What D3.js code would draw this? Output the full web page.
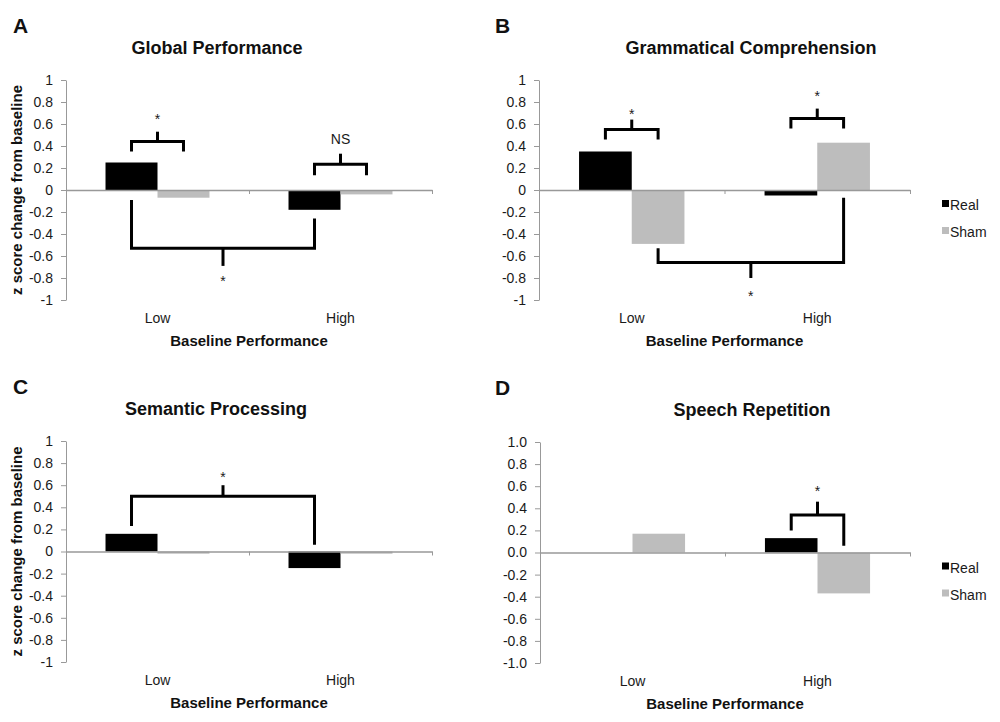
<!DOCTYPE html>
<html>
<head>
<meta charset="utf-8">
<script src="https://cdn.jsdelivr.net/npm/d3@7"></script>
<style>
  body { margin: 0; background: #fff; }
  text { font-family: "Liberation Sans", Arial, Helvetica, sans-serif; }
</style>
</head>
<body>
<div id="chart"></div>
<script>
const width = 1000;
const height = 722;

// Data
const categories = ["Low", "High"];
const series = ["Real", "Sham"];

const globalReal = [0.25, -0.18];
const globalSham = [-0.07, -0.04];
const grammarReal = [0.35, -0.05];
const grammarSham = [-0.49, 0.43];
const semanticReal = [0.16, -0.15];
const semanticSham = [-0.02, -0.02];
const speechReal = [0, 0.13];
const speechSham = [0.17, -0.37];

const yTicks = [1, 0.8, 0.6, 0.4, 0.2, 0, -0.2, -0.4, -0.6, -0.8, -1];

// significance brackets (values in z units)
const globalBrackets = [
    { from: ["Low", "Real"], to: ["Low", "Sham"], level: 0.44, left: 0.35, right: 0.35, tick: 0.53, label: "*", labelAt: 0.67 },
    { from: ["High", "Real"], to: ["High", "Sham"], level: 0.235, left: 0.135, right: 0.135, tick: 0.33, label: "NS", labelAt: 0.46 },
    { from: ["Low", "Real"], to: ["High", "Real"], level: -0.53, left: -0.09, right: -0.26, tick: -0.69, label: "*", labelAt: -0.80 }
];
const grammarBrackets = [
    { from: ["Low", "Real"], to: ["Low", "Sham"], level: 0.55, left: 0.46, right: 0.46, tick: 0.64, label: "*", labelAt: 0.72 },
    { from: ["High", "Real"], to: ["High", "Sham"], level: 0.65, left: 0.56, right: 0.56, tick: 0.74, label: "*", labelAt: 0.88 },
    { from: ["Low", "Sham"], to: ["High", "Sham"], level: -0.66, left: -0.53, right: -0.07, tick: -0.80, label: "*", labelAt: -0.94 }
];
const semanticBrackets = [
    { from: ["Low", "Real"], to: ["High", "Real"], level: 0.50, left: 0.23, right: 0.06, tick: 0.60, label: "*", labelAt: 0.70 }
];
const speechBrackets = [
    { from: ["High", "Real"], to: ["High", "Sham"], level: 0.34, left: 0.20, right: 0.06, tick: 0.46, label: "*", labelAt: 0.58 }
];

const colors = { Real: "#000000", Sham: "#bdbdbd" };

const panels = [
    { letter: "A", title: "Global Performance", real: globalReal, sham: globalSham, brackets: globalBrackets,
      x0: 66, x1: 432, yTop: 80, yBot: 300, titleX: 217, letterX: 13, yTitle: true, legend: false, fmt: d => String(+d.toFixed(1)) },
    { letter: "B", title: "Grammatical Comprehension", real: grammarReal, sham: grammarSham, brackets: grammarBrackets,
      x0: 539, x1: 910, yTop: 80, yBot: 300, titleX: 751, letterX: 495, yTitle: false, legend: true, fmt: d => String(+d.toFixed(1)) },
    { letter: "C", title: "Semantic Processing", real: semanticReal, sham: semanticSham, brackets: semanticBrackets,
      x0: 66, x1: 432, yTop: 441, yBot: 662, titleX: 216, letterX: 13, yTitle: true, legend: false, fmt: d => String(+d.toFixed(1)) },
    { letter: "D", title: "Speech Repetition", real: speechReal, sham: speechSham, brackets: speechBrackets,
      x0: 540, x1: 910, yTop: 442, yBot: 663, titleX: 752, letterX: 495, yTitle: false, legend: true, fmt: d => d.toFixed(1) }
];

const svg = d3.select("#chart")
    .append("svg")
    .attr("width", width)
    .attr("height", height)
    .style("background", "#fff");

function drawPanel(p) {
    const g = svg.append("g");

    const y = d3.scaleLinear().domain([-1, 1]).range([p.yBot, p.yTop]);
    const x = d3.scaleBand().domain(categories).range([p.x0, p.x1]).padding(0);
    const xs = d3.scaleBand().domain(series).range([0, x.bandwidth()]).paddingInner(0).paddingOuter(0.76);

    const rows = categories.map((c, i) => ({ cat: c, Real: p.real[i], Sham: p.sham[i] }));

    // y axis
    const yAxis = g.append("g")
        .attr("transform", `translate(${p.x0},0)`)
        .call(d3.axisLeft(y).tickValues(yTicks).tickFormat(p.fmt).tickSize(5).tickSizeOuter(0).tickPadding(8));
    yAxis.select(".domain").attr("stroke", "#999");
    yAxis.selectAll(".tick line").attr("stroke", "#999");
    yAxis.selectAll(".tick text")
        .attr("fill", "#1a1a1a")
        .style("font-size", "14px")
        .style("font-family", "'Liberation Sans', Arial, sans-serif");

    // bars
    g.append("g")
        .selectAll("g")
        .data(rows)
        .enter().append("g")
        .attr("transform", d => `translate(${x(d.cat)},0)`)
        .selectAll("rect")
        .data(d => series.map(s => ({ key: s, value: d[s] })))
        .enter().append("rect")
        .attr("x", d => xs(d.key))
        .attr("width", xs.bandwidth())
        .attr("y", d => y(Math.max(0, d.value)))
        .attr("height", d => Math.abs(y(d.value) - y(0)))
        .attr("fill", d => colors[d.key]);

    // zero line with category boundary ticks
    const xLin = d3.scaleLinear().domain([0, categories.length]).range([p.x0, p.x1]);
    const xAxis = g.append("g")
        .attr("transform", `translate(0,${y(0)})`)
        .call(d3.axisBottom(xLin).tickValues(d3.range(categories.length + 1)).tickFormat("").tickSize(4).tickSizeOuter(0));
    xAxis.select(".domain").attr("stroke", "#999").attr("stroke-width", 1.3);
    xAxis.selectAll(".tick line").attr("stroke", "#999");

    // category labels
    g.selectAll(".cat")
        .data(categories)
        .enter().append("text")
        .attr("class", "cat")
        .attr("x", d => x(d) + x.bandwidth() / 2)
        .attr("y", p.yBot + 23)
        .attr("text-anchor", "middle")
        .style("font-size", "14px")
        .attr("fill", "#1a1a1a")
        .text(d => d);

    g.append("text")
        .attr("x", (p.x0 + p.x1) / 2)
        .attr("y", p.yBot + 46)
        .attr("text-anchor", "middle")
        .style("font-size", "15px")
        .style("font-weight", "bold")
        .attr("fill", "#111")
        .text("Baseline Performance");

    // title and letter
    g.append("text")
        .attr("x", p.titleX)
        .attr("y", p.yTop - 26)
        .attr("text-anchor", "middle")
        .style("font-size", "18px")
        .style("font-weight", "bold")
        .attr("fill", "#111")
        .text(p.title);

    g.append("text")
        .attr("x", p.letterX)
        .attr("y", p.yTop - 47)
        .style("font-size", "21px")
        .style("font-weight", "bold")
        .attr("fill", "#111")
        .text(p.letter);

    if (p.yTitle) {
        g.append("text")
            .attr("transform", `translate(${p.x0 - 44},${y(0)}) rotate(-90)`)
            .attr("text-anchor", "middle")
            .style("font-size", "15px")
            .style("font-weight", "bold")
            .attr("fill", "#111")
            .text("z score change from baseline");
    }

    // brackets
    const cx = ([c, s]) => x(c) + xs(s) + xs.bandwidth() / 2;
    p.brackets.forEach(b => {
        const xl = cx(b.from), xr = cx(b.to), xm = (xl + xr) / 2;
        g.append("path")
            .attr("d", `M${xl},${y(b.left)}V${y(b.level)}H${xr}V${y(b.right)}`)
            .attr("fill", "none")
            .attr("stroke", "#000")
            .attr("stroke-width", 3);
        g.append("path")
            .attr("d", `M${xm},${y(b.level)}V${y(b.tick)}`)
            .attr("stroke", "#000")
            .attr("stroke-width", 3);
        g.append("text")
            .attr("x", xm)
            .attr("y", y(b.labelAt) + (b.label === "*" ? 8 : 5))
            .attr("text-anchor", "middle")
            .style("font-size", "14px")
            .attr("fill", "#1a1a1a")
            .text(b.label);
    });

    // legend
    if (p.legend) {
        const lg = g.append("g")
            .attr("transform", `translate(${p.x1 + 28},${y(0)})`);
        series.forEach((s, i) => {
            lg.append("rect")
                .attr("x", 4)
                .attr("y", 10 + i * 27)
                .attr("width", 7)
                .attr("height", 7)
                .attr("fill", colors[s]);
            lg.append("text")
                .attr("x", 12)
                .attr("y", 20 + i * 27)
                .style("font-size", "14px")
                .attr("fill", "#1a1a1a")
                .text(s);
        });
    }
}

panels.forEach(drawPanel);
</script>
</body>
</html>
